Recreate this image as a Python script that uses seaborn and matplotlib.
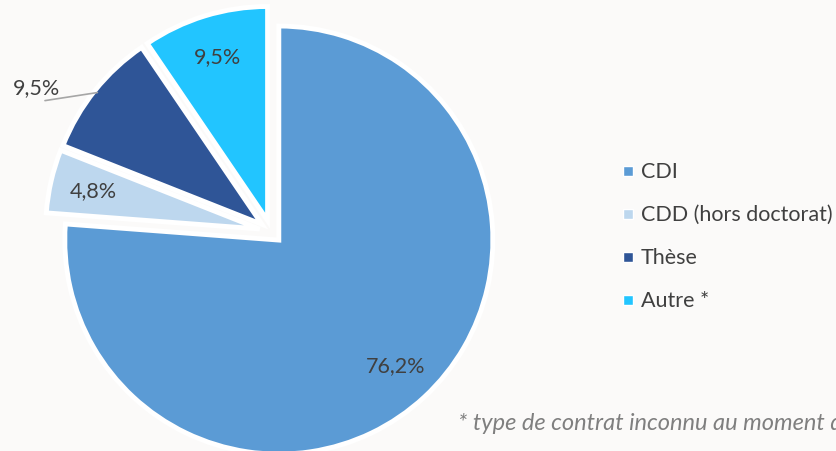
import numpy as np
import seaborn as sns
import matplotlib.pyplot as plt
from matplotlib.lines import Line2D

# ------------------------------------------------------------
# Data
# ------------------------------------------------------------
categories = ['CDI', 'CDD (hors doctorat)', 'Thèse', 'Autre *']
shares = [76.2, 4.8, 9.5, 9.5]
colors = ['#5B9BD5', '#BDD7EE', '#2F5597', '#22C5FF']
note = "* type de contrat inconnu au moment de l'enquête"

sns.set_theme(style='white')
plt.rcParams['font.family'] = ['Lato', 'DejaVu Sans']

fig = plt.figure(figsize=(8.36, 4.51), dpi=100, facecolor='#fbfaf9')
ax = fig.add_axes([0, 0, 1, 1])
ax.set_facecolor('#fbfaf9')

wedges, _ = ax.pie(shares, colors=colors, startangle=90, counterclock=False,
                   explode=[0.054] * len(shares), radius=1,
                   wedgeprops=dict(edgecolor='white', linewidth=3.5))

# map data units so that the pie centre sits where it does in the original
ax.set_xlim(-1.266, 2.640)
ax.set_ylim(-1.025, 1.082)
ax.set_aspect('auto')
ax.axis('off')

def fmt(v):
    return f"{v:.1f}".replace('.', ',') + '%'

txt_color = '#404040'
fs = 15.5
for i, (w, v) in enumerate(zip(wedges, shares)):
    ang = np.deg2rad((w.theta1 + w.theta2) / 2)
    cx, cy = w.center
    if i == 2:
        # outside label with leader line
        x0, y0 = cx + 0.985 * np.cos(ang), cy + 0.985 * np.sin(ang)
        a2 = ang + np.deg2rad(9)
        x1, y1 = cx + 1.167 * np.cos(a2), cy + 1.167 * np.sin(a2)
        ax.plot([x1, x0], [y1, y0], color='#a6a6a6', lw=1.2)
        ax.text(x1 + 0.07, y1 + 0.01, fmt(v), ha='right', va='bottom',
                fontsize=fs, color=txt_color)
    else:
        d = 0.8
        ax.text(cx + d * np.cos(ang), cy + d * np.sin(ang), fmt(v),
                ha='center', va='center', fontsize=fs, color=txt_color)

handles = [Line2D([0], [0], marker='s', linestyle='none', markersize=7.5,
                  markerfacecolor=c, markeredgecolor='white', markeredgewidth=1)
           for c in colors]
leg = fig.legend(handles, categories, loc='center left',
                 bbox_to_anchor=(0.743, 0.475), frameon=False, fontsize=fs,
                 labelspacing=1.07, handlelength=0.6, handletextpad=0.3,
                 borderpad=0, borderaxespad=0)
for t in leg.get_texts():
    t.set_color(txt_color)

fig.text(0.548, 0.062, note, fontsize=17, style='italic', color='#7f7f7f',
         ha='left', va='center')

fig.savefig('out.png', dpi=100, facecolor=fig.get_facecolor())
